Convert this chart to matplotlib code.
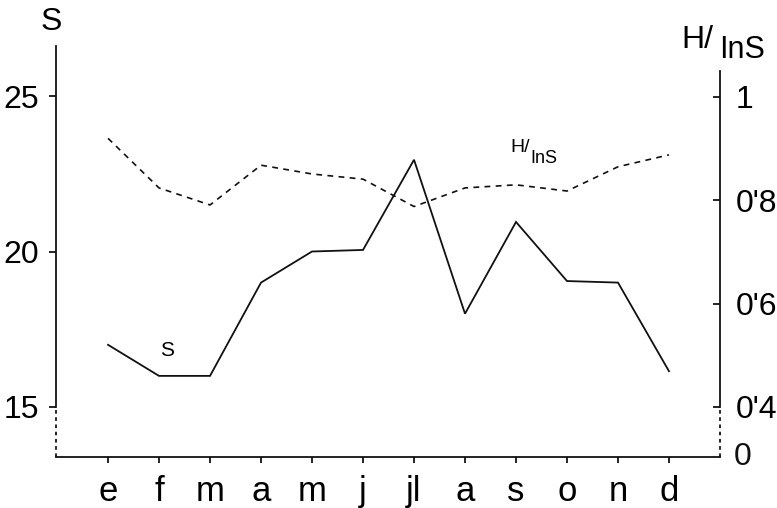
import numpy as np
import matplotlib
matplotlib.use('Agg')
import matplotlib.pyplot as plt

plt.rcParams['font.family'] = ['Liberation Sans', 'DejaVu Sans']

# ================================ DATA ================================
months = ['e', 'f', 'm', 'a', 'm', 'j', 'jl', 'a', 's', 'o', 'n', 'd']
S = [17.0, 16.0, 16.0, 19.0, 20.0, 20.05, 22.95, 18.0, 20.95, 19.05, 19.0, 16.15]
H_lnS = [0.92, 0.824, 0.791, 0.868, 0.851, 0.841, 0.788, 0.824, 0.830, 0.818, 0.865, 0.888]

left_ticks = [15, 20, 25]
right_ticks = [0.4, 0.6, 0.8, 1.0]
right_labels = ["0'4", "0'6", "0'8", "1"]

# ================================ FIGURE ===============================
W, H = 777, 508
fig = plt.figure(figsize=(W / 100, H / 100), dpi=100)
# axes box in pixels: x 56..720, y 46..457 (from top)
ax = fig.add_axes([56 / W, (H - 457) / H, (720 - 56) / W, (457 - 46) / H])
ax2 = ax.twinx()

x = np.arange(len(months))
ax.plot(x, S, color='#111111', lw=1.3, solid_joinstyle='miter')
ax2.plot(x, H_lnS, color='#111111', lw=1.2, linestyle=(0, (3.5, 3.2)))

ax.set_xlim(-1.02, 12.0)
ax.set_ylim(13.392, 26.608)
ax2.set_ylim(0.3032, 1.0987)

# spines
for s in ['top', 'right']:
    ax.spines[s].set_visible(False)
for s in ['top', 'left', 'bottom']:
    ax2.spines[s].set_visible(False)
ax.spines['left'].set_bounds(15, 26.608)
ax2.spines['right'].set_bounds(0.4, 1.05)
for sp in [ax.spines['left'], ax.spines['bottom'], ax2.spines['right']]:
    sp.set_linewidth(1.3)
    sp.set_color('#111111')

# dashed lower part of the vertical axes (axis break)
ax.plot([0, 0], [13.392, 15], transform=ax.get_yaxis_transform(),
        color='#111111', lw=1.3, linestyle=(0, (2, 2)), clip_on=False)
ax2.plot([1, 1], [0.3032, 0.4], transform=ax2.get_yaxis_transform(),
         color='#111111', lw=1.3, linestyle=(0, (2, 2)), clip_on=False)

# ticks
ax.set_xticks(x)
ax.set_xticklabels(months, fontsize=25)
ax.tick_params(axis='x', direction='out', length=4, width=1.2, pad=9)
ax.set_yticks(left_ticks)
ax.set_yticklabels([str(v) for v in left_ticks], fontsize=23)
ax.tick_params(axis='y', direction='out', length=5, width=1.2, pad=7)
ax2.set_yticks(right_ticks)
ax2.set_yticklabels(right_labels, fontsize=23)
ax2.tick_params(axis='y', direction='in', length=5, width=1.2, pad=11)
ax2.text(1 + 14 / (720 - 56), 0.3032, '0', transform=ax2.get_yaxis_transform(),
         fontsize=23, ha='left', va='center', color='#111111')

# axis titles
fig.text(51 / W, 1 - 22 / H, 'S', fontsize=23, ha='center', va='center')
fig.text(697 / W, 1 - 40 / H, 'H/', fontsize=23, ha='center', va='center')
fig.text(742 / W, 1 - 50 / H, 'InS', fontsize=22, ha='center', va='center')

# in-plot labels
ax.text(1.16, 16.83, 'S', fontsize=15, ha='center', va='center')
ax.text(8.08, 23.33, 'H/', fontsize=14, ha='center', va='center')
ax.text(8.55, 23.0, 'InS', fontsize=13, ha='center', va='center')

fig.savefig('out.png', dpi=100)
